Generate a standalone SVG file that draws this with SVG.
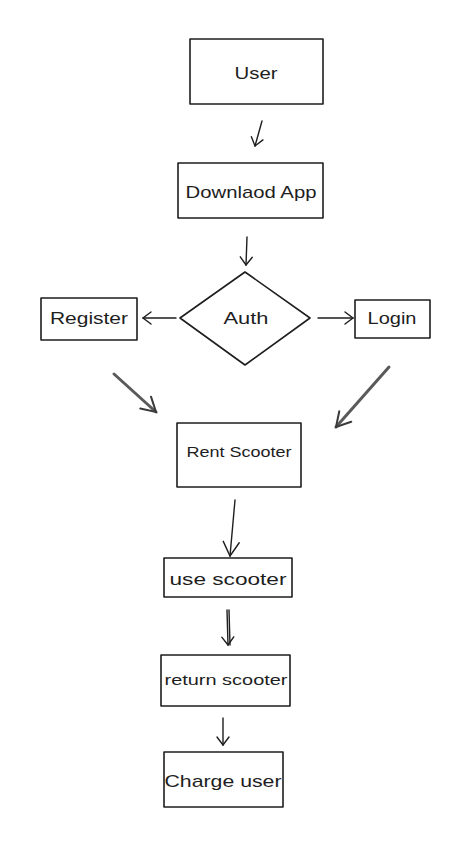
<svg xmlns="http://www.w3.org/2000/svg" width="457" height="863" viewBox="0 0 457 863">
<style>
.box{fill:none;stroke:#1e1e1e;stroke-width:1.6;stroke-linejoin:round}
.lbl{font-family:"Liberation Sans","DejaVu Sans",sans-serif;font-size:17px;fill:#1e1e1e;text-anchor:middle}
.sm{font-size:15px}
.ln{fill:none;stroke:#1e1e1e;stroke-width:1.4;stroke-linecap:round}
.thick{fill:none;stroke:#5a5a5a;stroke-width:3;stroke-linecap:round}
</style>
<defs>
<marker id="hs" markerUnits="userSpaceOnUse" markerWidth="20" markerHeight="20" refX="10" refY="10" orient="auto" overflow="visible">
<path d="M2,4 L10,10 L2,16" fill="none" stroke="#1e1e1e" stroke-width="1.4" stroke-linecap="round"/>
</marker>
<marker id="hl" markerUnits="userSpaceOnUse" markerWidth="30" markerHeight="30" refX="15" refY="15" orient="auto" overflow="visible">
<path d="M1,7 L15,15 L1,23" fill="none" stroke="#1e1e1e" stroke-width="1.4" stroke-linecap="round"/>
</marker>
<marker id="hg" markerUnits="userSpaceOnUse" markerWidth="30" markerHeight="30" refX="15" refY="15" orient="auto" overflow="visible">
<path d="M1,7 L15,15 L1,23" fill="none" stroke="#3a3a3a" stroke-width="2" stroke-linecap="round"/>
</marker>
</defs>
<g id="connectors">
<line class="ln" x1="262" y1="121" x2="255" y2="146" marker-end="url(#hs)"/>
<line class="ln" x1="247" y1="237" x2="246" y2="265" marker-end="url(#hs)"/>
<line class="ln" x1="176" y1="318" x2="143" y2="318" marker-end="url(#hs)"/>
<line class="ln" x1="318" y1="318" x2="353" y2="318" marker-end="url(#hs)"/>
<line class="thick" x1="114" y1="374" x2="156" y2="412" marker-end="url(#hg)"/>
<line class="thick" x1="389" y1="367" x2="336" y2="427" marker-end="url(#hg)"/>
<line class="ln" x1="235" y1="500" x2="230" y2="556" marker-end="url(#hl)"/>
<line class="ln" x1="227" y1="610" x2="228" y2="645" marker-end="url(#hs)"/>
<line class="ln" x1="229" y1="610" x2="230" y2="645"/>
<line class="ln" x1="223" y1="718" x2="223" y2="745" marker-end="url(#hs)"/>
</g>
<g id="user">
<rect class="box" x="190" y="39" width="133" height="65"/>
<text class="lbl" x="256" y="79" textLength="43" lengthAdjust="spacingAndGlyphs">User</text>
</g>
<g id="download">
<rect class="box" x="178" y="163" width="145" height="55"/>
<text class="lbl" x="251" y="198" textLength="131" lengthAdjust="spacingAndGlyphs">Downlaod App</text>
</g>
<g id="auth">
<polygon class="box" points="245,272 310,318 245,365 180,318"/>
<text class="lbl" x="246" y="324" textLength="45" lengthAdjust="spacingAndGlyphs">Auth</text>
</g>
<g id="register">
<rect class="box" x="41" y="298" width="96" height="42"/>
<text class="lbl" x="89" y="324" textLength="78" lengthAdjust="spacingAndGlyphs">Register</text>
</g>
<g id="login">
<rect class="box" x="355" y="300" width="75" height="38"/>
<text class="lbl" x="392" y="324" textLength="49" lengthAdjust="spacingAndGlyphs">Login</text>
</g>
<g id="rent">
<rect class="box" x="177" y="423" width="124" height="64"/>
<text class="lbl sm" x="239" y="457" textLength="105" lengthAdjust="spacingAndGlyphs">Rent Scooter</text>
</g>
<g id="use">
<rect class="box" x="164" y="558" width="128" height="39"/>
<text class="lbl" x="228" y="585" textLength="117" lengthAdjust="spacingAndGlyphs">use scooter</text>
</g>
<g id="return">
<rect class="box" x="161" y="655" width="129" height="51"/>
<text class="lbl sm" x="226" y="685" textLength="123" lengthAdjust="spacingAndGlyphs">return scooter</text>
</g>
<g id="charge">
<rect class="box" x="164" y="752" width="119" height="55"/>
<text class="lbl" x="223" y="787" textLength="117" lengthAdjust="spacingAndGlyphs">Charge user</text>
</g>
</svg>
